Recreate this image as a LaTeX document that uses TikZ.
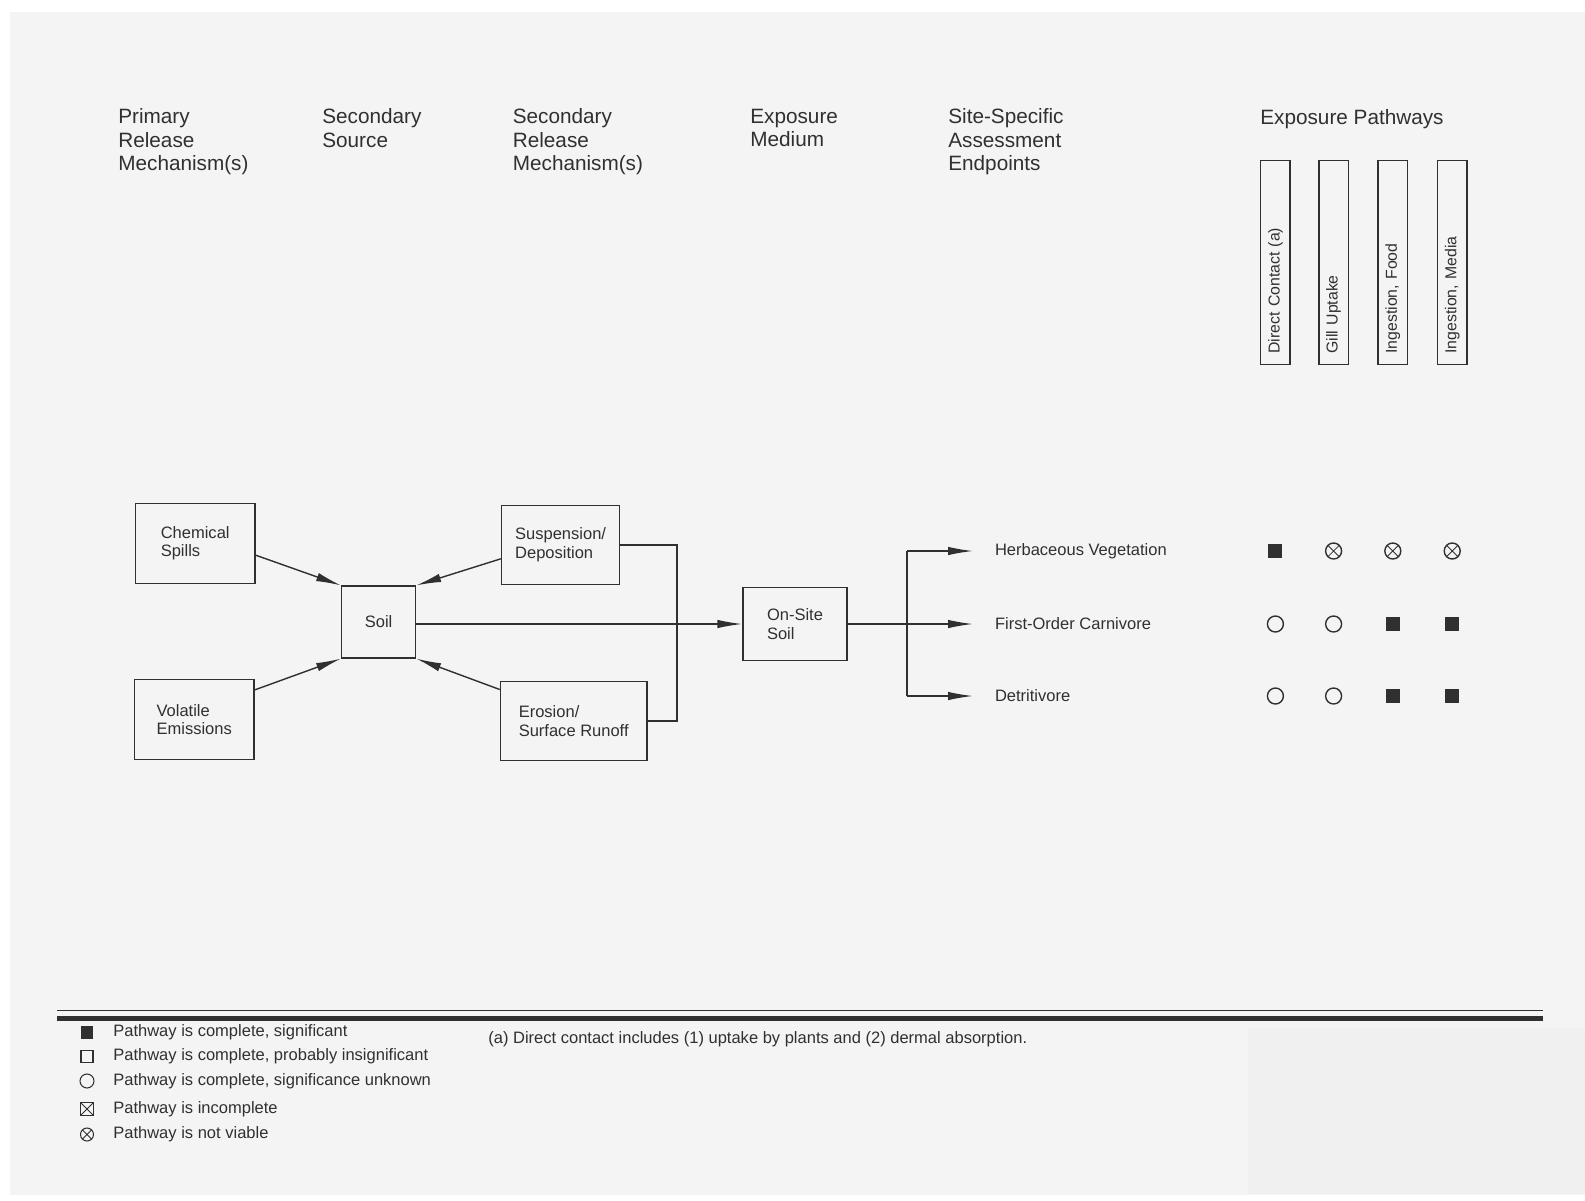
\documentclass[tikz,border=0pt]{standalone}
\usepackage{fontspec}
\setmainfont{Liberation Sans}
\usetikzlibrary{arrows.meta}
\definecolor{ink}{HTML}{303030}
\definecolor{paper}{HTML}{F4F4F4}
\definecolor{patch}{HTML}{F0F0F0}
\tikzset{
  box/.style={draw=ink, line width=0.8pt, align=left, text=ink,
    font=\fontsize{9.4}{10.6}\selectfont},
  head/.style={anchor=north west, inner sep=0pt, align=left, text=ink,
    font=\fontsize{11.8}{13.4}\selectfont},
  wire/.style={draw=ink, line width=0.8pt},
  arr/.style={wire, -{Latex[length=0.5cm, width=0.17cm]}},
  endpt/.style={anchor=west, inner sep=0pt, outer xsep=0.44cm, text=ink,
    font=\fontsize{9.4}{10.6}\selectfont},
  pbox/.style={draw=ink, line width=0.8pt, rotate=90, minimum height=0.59cm,
    inner xsep=0.22cm, text width=3.64cm, align=left, text=ink,
    font=\fontsize{9}{10}\selectfont},
  leg/.style={anchor=west, inner sep=0pt, text=ink,
    font=\fontsize{9.4}{10.6}\selectfont},
  xmark/.style={path picture={\draw[ink, line width=0.5pt]
    (path picture bounding box.north west) -- (path picture bounding box.south east)
    (path picture bounding box.south west) -- (path picture bounding box.north east);}},
  sig/.style={fill=ink, minimum size=0.28cm, inner sep=0pt},
  ins/.style={draw=ink, line width=0.6pt, minimum size=0.24cm, inner sep=0pt},
  unk/.style={circle, draw=ink, line width=0.8pt, minimum size=0.32cm, inner sep=0pt},
  inc/.style={ins, xmark},
  nv/.style={unk, xmark},
}
\begin{document}
\begin{tikzpicture}[x=0.02cm, y=-0.02cm]
  % page
  \fill[white] (0,0) rectangle (1585,1200);
  \fill[paper] (10,12) rectangle (1585,1195);
  \fill[patch] (1248,1028) rectangle (1585,1194);
  \useasboundingbox (0,0) rectangle (1585,1200);

  % column headings
  \node[head] (h1) at (118,108.5) {Primary\\Release\\Mechanism(s)};
  \node[head] (h2) at (322,108.5) {Secondary\\Source};
  \node[head] (h3) at (512.5,108.5) {Secondary\\Release\\Mechanism(s)};
  \node[head] (h4) at (750,108.5) {Exposure\\Medium};
  \node[head] (h5) at (948,108.5) {Site-Specific\\Assessment\\Endpoints};
  \node[head] (h6) at (1260,109.5) {Exposure Pathways};

  % exposure pathways
  \node[pbox] (dc) at (1275.4,262.5) {Direct Contact (a)};
  \node[pbox] (gu) at (1333.6,262.5) {Gill Uptake};
  \node[pbox] (inf) at (1392.8,262.5) {Ingestion, Food};
  \node[pbox] (inm) at (1452.2,262.5) {Ingestion, Media};

  % sources and release
  \node[box, minimum width=2.386cm, minimum height=1.596cm] (chem) at (195.2,543.4) {Chemical\\Spills};
  \node[box, minimum width=2.386cm, minimum height=1.598cm] (vol) at (194.2,719.4) {Volatile\\Emissions};
  \node[box, minimum width=1.476cm, minimum height=1.436cm] (soil) at (378.6,622) {Soil};
  \node[box, minimum width=2.364cm, minimum height=1.578cm] (susp) at (560.6,545) {Suspension/\\Deposition};
  \node[box, minimum width=2.932cm, minimum height=1.578cm] (eros) at (573.7,720.9) {Erosion/\\Surface Runoff};
  \node[box, minimum width=2.08cm, minimum height=1.456cm] (onsite) at (795,624) {On-Site\\Soil};

  \draw[arr] (chem.-11) -- (soil.north west);
  \draw[arr] (vol.26) -- (soil.south west);
  \draw[arr] (susp.193) -- (soil.north east);
  \draw[arr] (eros.157) -- (soil.south east);
  \draw[arr] (soil.east |- onsite.west) -- (onsite.west);
  \coordinate (bend) at (677,633);
  \draw[wire] (susp.east) -| (bend) |- (eros.east);

  % endpoints
  \node[endpt] (herb) at (973,551) {Herbaceous Vegetation};
  \node[endpt] (carn) at (973,624) {First-Order Carnivore};
  \node[endpt] (detr) at (973,696) {Detritivore};
  \coordinate (fork) at (907,624);
  \draw[arr] (onsite.east) -- (carn.west);
  \draw[wire] (fork |- herb) -- (fork |- detr);
  \draw[arr] (fork |- herb) -- (herb.west);
  \draw[arr] (fork |- detr) -- (detr.west);

  % pathway ratings
  \foreach \col/\m in {dc/sig, gu/nv, inf/nv, inm/nv}
    \node[\m] (herb-\col) at (\col |- herb) {};
  \foreach \col/\m in {dc/unk, gu/unk, inf/sig, inm/sig}
    \node[\m] (carn-\col) at (\col |- carn) {};
  \foreach \col/\m in {dc/unk, gu/unk, inf/sig, inm/sig}
    \node[\m] (detr-\col) at (\col |- detr) {};

  % legend
  \draw[ink, line width=0.85pt] (57,1010.5) -- (1543,1010.5);
  \draw[ink, line width=2.3pt] (57,1018.5) -- (1543,1018.5);
  \node[sig, minimum size=0.26cm] (k1) at (87,1032) {};
  \node[ins] (k2) at (87,1056.5) {};
  \node[unk, minimum size=0.28cm, line width=0.6pt] (k3) at (87,1081) {};
  \node[inc, minimum size=0.26cm] (k4) at (87,1109) {};
  \node[nv, minimum size=0.26cm, line width=0.6pt] (k5) at (87,1134.5) {};
  \node[leg] (t1) at (113,1032) {Pathway is complete, significant};
  \node[leg] (t2) at (113,1056.5) {Pathway is complete, probably insignificant};
  \node[leg] (t3) at (113,1081) {Pathway is complete, significance unknown};
  \node[leg] (t4) at (113,1109) {Pathway is incomplete};
  \node[leg] (t5) at (113,1134.5) {Pathway is not viable};
  \node[leg] (note) at (488,1039.5) {(a) Direct contact includes (1) uptake by plants and (2) dermal absorption.};
\end{tikzpicture}
\end{document}
